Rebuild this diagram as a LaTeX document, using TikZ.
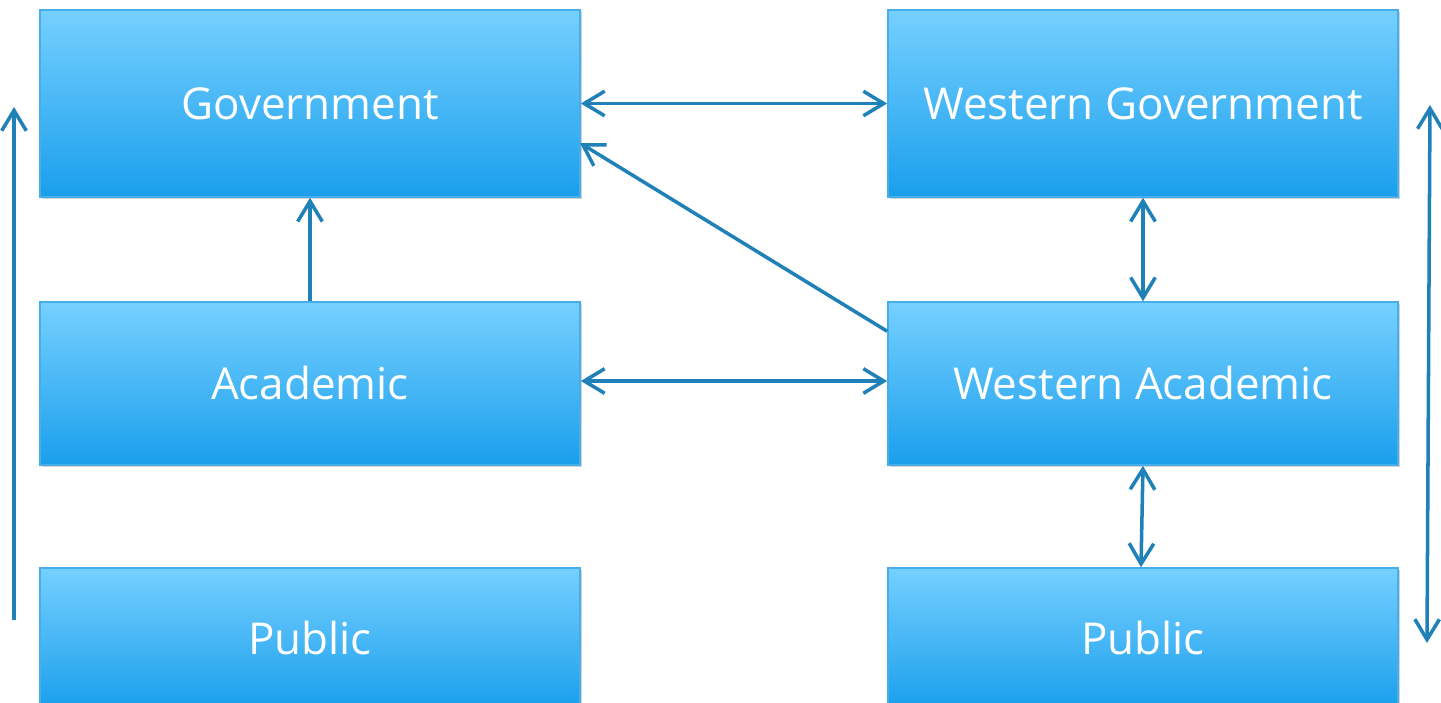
\documentclass[tikz,border=0pt]{standalone}
\usepackage{fontspec}
\setmainfont{Open Sans}
\usetikzlibrary{arrows.meta,shadows}
\begin{document}
\begin{tikzpicture}[x=0.01cm, y=-0.01cm,
			box/.style = {rectangle, draw={rgb,255:red,70;green,175;blue,235}, line width=0.4pt,
				top color={rgb,255:red,118;green,208;blue,255},
				bottom color={rgb,255:red,26;green,159;blue,236},
				text=white, font=\fontsize{12.5}{15}\selectfont,
				drop shadow={opacity=0.35, shadow xshift=0.6pt, shadow yshift=-0.6pt}},
			link/.style = {draw={rgb,255:red,32;green,128;blue,184}, line width=1pt,
				{Straight Barb[length=5.8pt,width=7pt]}-{Straight Barb[length=5.8pt,width=7pt]}},
			uplink/.style = {link, -{Straight Barb[length=5.8pt,width=7pt]}}]
			
			\useasboundingbox (0,0) rectangle (1441,703);
			
			% left column
			\node[box, minimum width=5.4cm, minimum height=1.87cm] (gov) at (310,103.5) {Government};
			\node[box, minimum width=5.4cm, minimum height=1.63cm] (acad) at (310,383.5) {Academic};
			\node[box, minimum width=5.4cm, minimum height=1.4cm] (pub) at (310,638) {Public};
			
			% right column
			\node[box, minimum width=5.1cm, minimum height=1.87cm] (wgov) at (1143,103.5) {Western Government};
			\node[box, minimum width=5.1cm, minimum height=1.63cm] (wacad) at (1143,383.5) {Western Academic};
			\node[box, minimum width=5.1cm, minimum height=1.4cm] (wpub) at (1143,638) {Public};
			
			% side arrows
			\coordinate (lbot) at (14,620);
			\coordinate (ltop) at (14,107);
			\coordinate (rtop) at (1430,105);
			\coordinate (rbot) at (1427,643);
			
			\draw[link] (gov.east) -- (wgov.west);
			\draw[link] (acad.east |- 0,381) -- (wacad.west |- 0,381);
			\draw[uplink] (acad.north) -- (gov.south);
			\draw[uplink] (wacad.north west) ++(0,30) -- (580,143);
			\draw[link] (wgov.south) -- (wacad.north);
			\draw[link] (wacad.south) -- (wpub.north -| 1141,0);
			\draw[uplink] (lbot) -- (ltop);
			\draw[link] (rtop) -- (rbot);
\end{tikzpicture}
\end{document}
